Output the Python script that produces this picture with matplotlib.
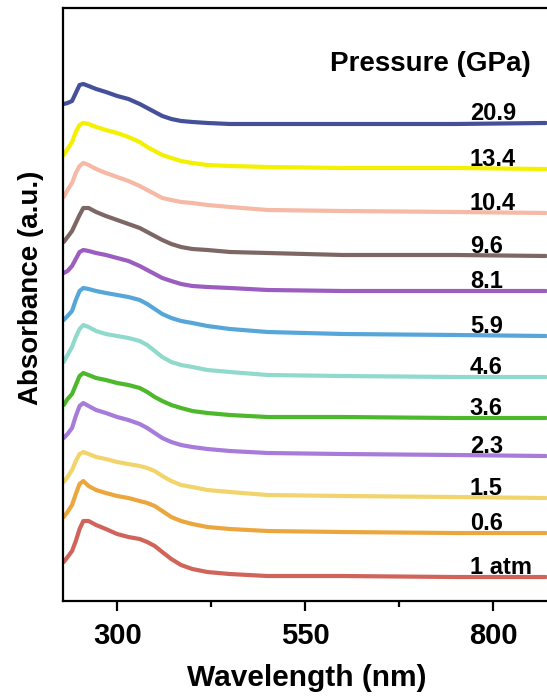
import matplotlib
matplotlib.use("Agg")
import matplotlib.pyplot as plt
from matplotlib.ticker import FixedLocator

plt.rcParams['font.family'] = ['Liberation Sans', 'DejaVu Sans']
plt.rcParams['font.weight'] = 'bold'

# wavelength sample points (nm)
wavelength = [229, 234, 240, 245, 250, 255, 262, 272, 285, 300, 315, 330,
              340, 350, 360, 372, 385, 400, 420, 450, 500, 600, 750, 870]

# offset (stacked) absorbance spectra, a.u.
abs_1atm = [0.39, 0.44, 0.50, 0.60, 0.72, 0.80, 0.80, 0.76, 0.72, 0.67, 0.64, 0.62,
            0.59, 0.55, 0.49, 0.42, 0.36, 0.32, 0.29, 0.27, 0.25, 0.25, 0.24, 0.24]
abs_0p6 = [0.84, 0.89, 0.96, 1.07, 1.17, 1.20, 1.15, 1.11, 1.08, 1.05, 1.03, 1.00,
           0.98, 0.95, 0.90, 0.84, 0.80, 0.77, 0.74, 0.72, 0.70, 0.69, 0.68, 0.68]
abs_1p5 = [1.19, 1.24, 1.31, 1.40, 1.47, 1.49, 1.47, 1.44, 1.42, 1.39, 1.37, 1.35,
           1.33, 1.30, 1.25, 1.20, 1.16, 1.14, 1.11, 1.09, 1.06, 1.05, 1.04, 1.03]
abs_2p3 = [1.63, 1.67, 1.73, 1.85, 1.95, 1.98, 1.95, 1.91, 1.88, 1.84, 1.81, 1.77,
           1.73, 1.68, 1.63, 1.59, 1.56, 1.54, 1.52, 1.50, 1.48, 1.47, 1.46, 1.45]
abs_3p6 = [1.96, 2.02, 2.07, 2.16, 2.25, 2.28, 2.26, 2.23, 2.21, 2.18, 2.16, 2.13,
           2.09, 2.04, 2.00, 1.96, 1.93, 1.90, 1.88, 1.86, 1.84, 1.84, 1.83, 1.83]
abs_4p6 = [2.39, 2.46, 2.54, 2.64, 2.72, 2.76, 2.74, 2.70, 2.67, 2.65, 2.63, 2.60,
           2.56, 2.50, 2.44, 2.39, 2.36, 2.34, 2.31, 2.29, 2.26, 2.25, 2.24, 2.24]
abs_5p9 = [2.81, 2.85, 2.90, 3.01, 3.10, 3.13, 3.12, 3.10, 3.08, 3.06, 3.04, 3.01,
           2.97, 2.92, 2.87, 2.83, 2.80, 2.78, 2.75, 2.72, 2.69, 2.67, 2.66, 2.65]
abs_8p1 = [3.28, 3.30, 3.35, 3.42, 3.49, 3.51, 3.50, 3.48, 3.46, 3.43, 3.40, 3.35,
           3.31, 3.27, 3.23, 3.20, 3.17, 3.15, 3.14, 3.13, 3.11, 3.10, 3.10, 3.10]
abs_9p6 = [3.59, 3.64, 3.70, 3.78, 3.86, 3.93, 3.93, 3.89, 3.85, 3.81, 3.77, 3.73,
           3.69, 3.65, 3.61, 3.57, 3.54, 3.52, 3.51, 3.49, 3.48, 3.46, 3.46, 3.45]
abs_10p4 = [4.04, 4.11, 4.18, 4.28, 4.35, 4.38, 4.36, 4.32, 4.28, 4.24, 4.20, 4.15,
            4.11, 4.07, 4.03, 4.01, 3.99, 3.98, 3.96, 3.94, 3.91, 3.90, 3.89, 3.88]
abs_13p4 = [4.46, 4.52, 4.59, 4.69, 4.76, 4.78, 4.77, 4.74, 4.71, 4.68, 4.64, 4.59,
            4.54, 4.50, 4.46, 4.43, 4.40, 4.38, 4.36, 4.35, 4.34, 4.33, 4.33, 4.32]
abs_20p9 = [4.97, 4.98, 5.00, 5.08, 5.16, 5.17, 5.15, 5.12, 5.09, 5.05, 5.02, 4.97,
            4.93, 4.89, 4.85, 4.82, 4.80, 4.79, 4.78, 4.77, 4.77, 4.77, 4.77, 4.78]

labels = ['1 atm', '0.6', '1.5', '2.3', '3.6', '4.6', '5.9', '8.1', '9.6', '10.4', '13.4', '20.9']
series = [abs_1atm, abs_0p6, abs_1p5, abs_2p3, abs_3p6, abs_4p6, abs_5p9,
          abs_8p1, abs_9p6, abs_10p4, abs_13p4, abs_20p9]
colors = ['#D0635A', '#ECA63E', '#F2D46C', '#A67BDA', '#4DB82B', '#90DACD',
          '#57A6DA', '#9B5DBF', '#7C6764', '#F5B9A5', '#F3F000', '#45509B']

fig = plt.figure(figsize=(5.47, 7.0), dpi=100)
ax = fig.add_axes([0.1152, 0.1414, 0.9238, 0.8472])

for y, c in zip(series, colors):
    ax.plot(wavelength, y, color=c, lw=3.0, solid_joinstyle='round', solid_capstyle='round')

for y, lab in zip(series, labels):
    ax.text(769, y[-1] + 0.03, lab, fontsize=17, fontweight='bold', ha='left', va='baseline')

ax.text(716, 5.37, 'Pressure (GPa)', fontsize=20, fontweight='bold', ha='center', va='center')

ax.set_xlim(228, 900)
ax.set_ylim(0, 5.93)
ax.xaxis.set_major_locator(FixedLocator([300, 550, 800]))
ax.xaxis.set_minor_locator(FixedLocator([425, 675]))
ax.set_yticks([])
ax.tick_params(axis='x', which='major', length=7, width=1.6, direction='out', labelsize=21, pad=8)
ax.tick_params(axis='x', which='minor', length=4, width=1.6, direction='out')
for lab in ax.get_xticklabels():
    lab.set_fontweight('bold')
for s in ['left', 'bottom', 'top']:
    ax.spines[s].set_linewidth(1.6)
ax.spines['right'].set_visible(False)

ax.set_xlabel('Wavelength (nm)', fontsize=21.5, fontweight='bold')
ax.set_ylabel('Absorbance (a.u.)', fontsize=20, fontweight='bold')
ax.xaxis.set_label_coords(0.483, -0.106)
ax.yaxis.set_label_coords(-0.038, 0.528)

fig.savefig('out.png', dpi=100)
